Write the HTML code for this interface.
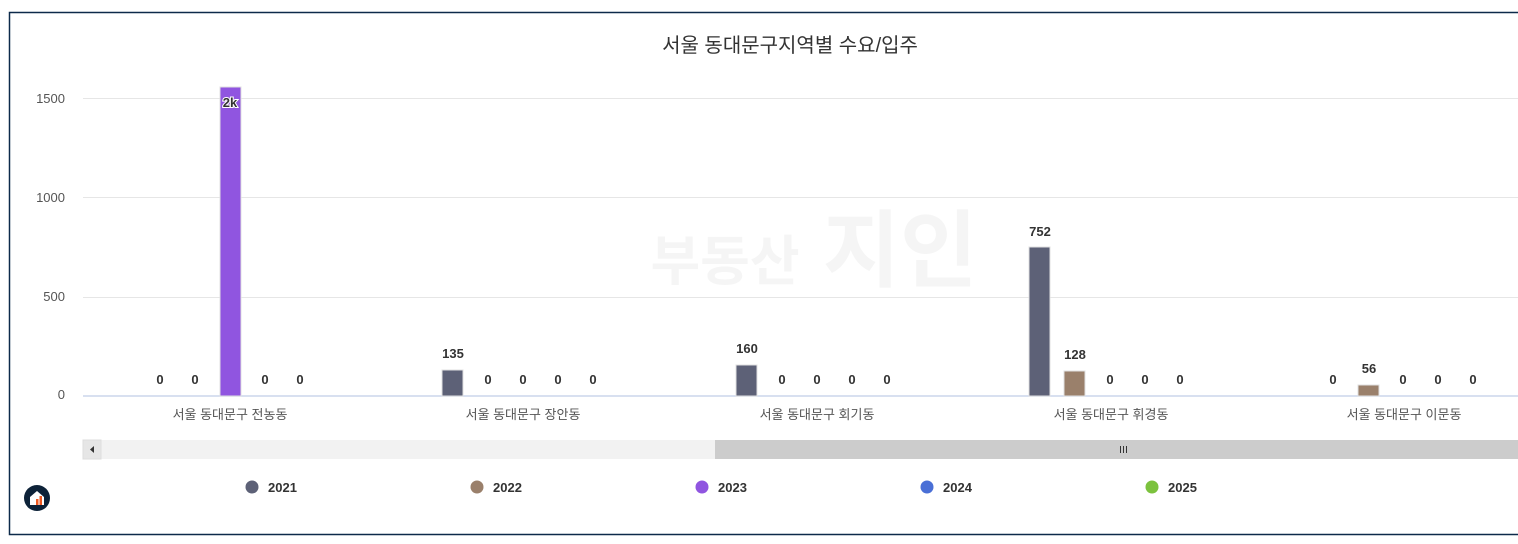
<!DOCTYPE html>
<html><head><meta charset="utf-8"><style>
body{margin:0;background:#fff;}
svg{display:block;font-family:"Liberation Sans","Noto Sans CJK KR",sans-serif;}
</style></head><body>
<svg width="1518" height="544" viewBox="0 0 1518 544">
<rect x="0" y="0" width="1518" height="544" fill="#fff"/>
<path d="M1530 12.5H9.5V534.5H1530" fill="none" stroke="#0d2a4a" stroke-width="1.5"/>
<text x="790" y="52" text-anchor="middle" font-size="20" fill="#333">서울 동대문구지역별 수요/입주</text>
<text x="725" y="280" text-anchor="middle" font-size="54" font-weight="bold" fill="#f5f5f5">부동산</text>
<text x="900" y="280" text-anchor="middle" font-size="84" font-weight="bold" fill="#f5f5f5">지인</text>
<g stroke="#e6e6e6" stroke-width="1">
<line x1="83" y1="98.5" x2="1518" y2="98.5"/>
<line x1="83" y1="197.5" x2="1518" y2="197.5"/>
<line x1="83" y1="297.5" x2="1518" y2="297.5"/>
</g>
<g font-size="13" fill="#555" text-anchor="end">
<text x="65" y="103">1500</text><text x="65" y="202">1000</text><text x="65" y="301">500</text><text x="65" y="399">0</text>
</g>
<line x1="83" y1="396" x2="1518" y2="396" stroke="#ccd6eb" stroke-width="1.5"/>
<g stroke="#e0e0e0" stroke-width="1">
<rect x="220" y="87" width="21" height="309" fill="#9055e0"/>
<rect x="442" y="370" width="21" height="26" fill="#5d6177"/>
<rect x="736" y="365" width="21" height="31" fill="#5d6177"/>
<rect x="1029" y="247" width="21" height="149" fill="#5d6177"/>
<rect x="1064" y="371" width="21" height="25" fill="#9a806b"/>
<rect x="1358" y="385" width="21" height="11" fill="#9a806b"/>
</g>
<g font-size="13" font-weight="bold" fill="#333" text-anchor="middle">
<text x="230" y="107" stroke="#fff" stroke-width="2" paint-order="stroke">2k</text>
<text x="160" y="384">0</text><text x="195" y="384">0</text><text x="265" y="384">0</text><text x="300" y="384">0</text>
<text x="453" y="358">135</text><text x="488" y="384">0</text><text x="523" y="384">0</text><text x="558" y="384">0</text><text x="593" y="384">0</text>
<text x="747" y="353">160</text><text x="782" y="384">0</text><text x="817" y="384">0</text><text x="852" y="384">0</text><text x="887" y="384">0</text>
<text x="1040" y="236">752</text><text x="1075" y="359">128</text><text x="1110" y="384">0</text><text x="1145" y="384">0</text><text x="1180" y="384">0</text>
<text x="1333" y="384">0</text><text x="1369" y="373">56</text><text x="1403" y="384">0</text><text x="1438" y="384">0</text><text x="1473" y="384">0</text>
</g>
<g font-size="13" fill="#555" text-anchor="middle">
<text x="230" y="419">서울 동대문구 전농동</text>
<text x="523" y="419">서울 동대문구 장안동</text>
<text x="817" y="419">서울 동대문구 회기동</text>
<text x="1111" y="419">서울 동대문구 휘경동</text>
<text x="1404" y="419">서울 동대문구 이문동</text>
</g>
<rect x="83" y="440" width="1435" height="19" fill="#f2f2f2"/>
<rect x="83" y="440" width="18" height="19" fill="#e6e6e6" stroke="#ddd"/>
<path d="M94 446v7l-4-3.5z" fill="#333"/>
<rect x="715" y="440" width="803" height="19" fill="#cccccc"/>
<g stroke="#333" stroke-width="1"><line x1="1120.5" y1="446" x2="1120.5" y2="453"/><line x1="1123.5" y1="446" x2="1123.5" y2="453"/><line x1="1126.5" y1="446" x2="1126.5" y2="453"/></g>
<g font-size="13" font-weight="bold" fill="#333">
<circle cx="252" cy="487" r="6.5" fill="#5d6177"/><text x="268" y="492">2021</text>
<circle cx="477" cy="487" r="6.5" fill="#9a806b"/><text x="493" y="492">2022</text>
<circle cx="702" cy="487" r="6.5" fill="#9055e0"/><text x="718" y="492">2023</text>
<circle cx="927" cy="487" r="6.5" fill="#4a6fd6"/><text x="943" y="492">2024</text>
<circle cx="1152" cy="487" r="6.5" fill="#7cc23e"/><text x="1168" y="492">2025</text>
</g>
<circle cx="37" cy="498" r="13" fill="#0d2238"/>
<path d="M30 505v-8l7-6 7 6v8z" fill="#fff"/>
<rect x="36" y="499" width="2.5" height="6" fill="#f05a22"/><rect x="39.5" y="496" width="2.5" height="9" fill="#f05a22"/>
</svg>
</body></html>
